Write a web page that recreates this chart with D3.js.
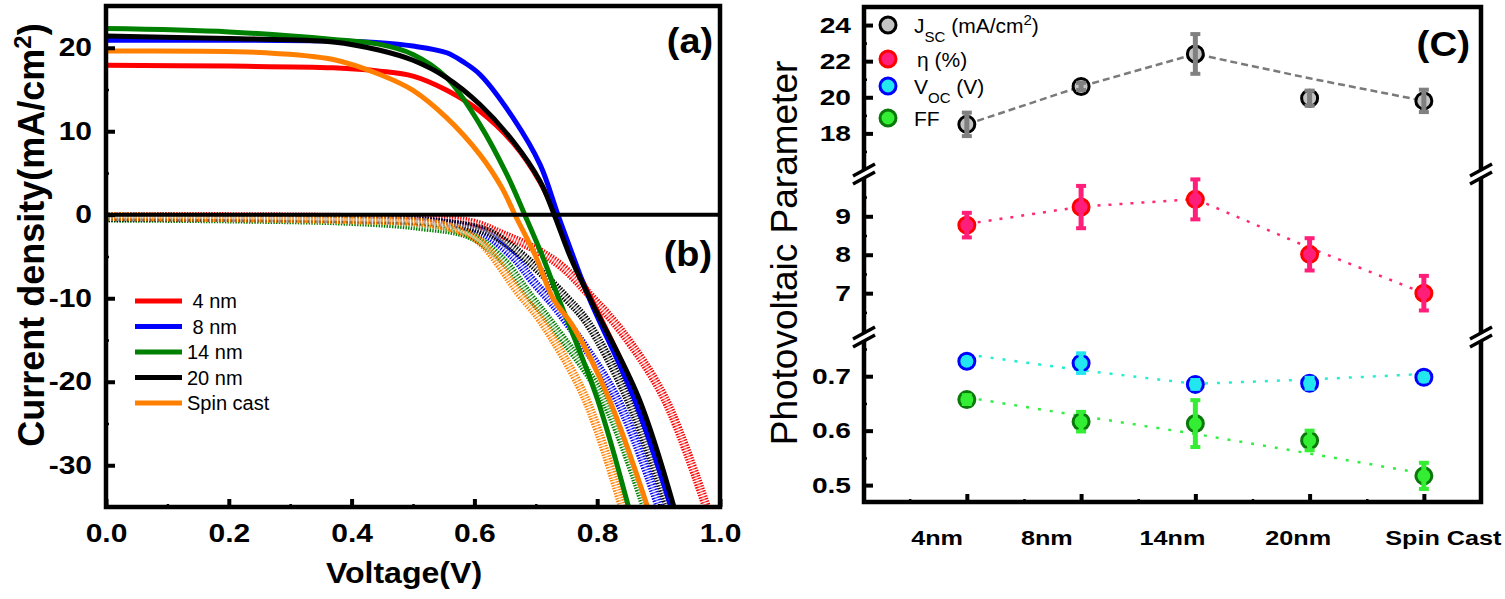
<!DOCTYPE html>
<html>
<head>
<meta charset="utf-8">
<script src="https://cdn.jsdelivr.net/npm/d3@7"></script>
<style>
  body { margin: 0; background: #fff; }
  svg { display: block; font-family: "Liberation Sans", Arial, sans-serif; }
</style>
</head>
<body>
<svg id="chart" width="1505" height="599"></svg>
<script>
// ---- panel (a): illuminated J-V, [voltage (V), current density (mA/cm2)] ----
const light4nm = [[0, 17.9], [0.2, 17.8], [0.37, 17.6], [0.446, 17.2], [0.5, 16.6], [0.555, 14.9], [0.609, 12.4],
  [0.663, 8.6], [0.707, 3.9], [0.732, 0], [0.757, -5], [0.79, -10], [0.866, -22], [0.922, -35]];
const light8nm = [[0, 20.9], [0.2, 20.9], [0.37, 20.8], [0.446, 20.6], [0.5, 20.2], [0.555, 19.4], [0.582, 18.3],
  [0.609, 16.8], [0.663, 11.6], [0.707, 6.0], [0.736, 0], [0.761, -5], [0.787, -10], [0.86, -22], [0.92, -35]];
const light14nm = [[0, 22.3], [0.2, 21.9], [0.37, 21.0], [0.446, 20.4], [0.5, 19.2], [0.555, 16.4], [0.609, 10.8],
  [0.653, 4.8], [0.682, 0], [0.711, -5], [0.737, -10], [0.8, -22], [0.851, -35]];
const light20nm = [[0, 21.4], [0.2, 21.1], [0.37, 20.7], [0.446, 19.7], [0.5, 18.5], [0.555, 16.4], [0.609, 13.2],
  [0.663, 8.8], [0.707, 4.0], [0.73, 0], [0.756, -5], [0.788, -10], [0.868, -22], [0.925, -35]];
const lightSpin = [[0, 19.6], [0.26, 19.4], [0.37, 18.6], [0.446, 16.8], [0.5, 14.9], [0.555, 11.6], [0.609, 7.2],
  [0.645, 3.2], [0.666, 0], [0.7, -5], [0.728, -10], [0.761, -13.4], [0.819, -22], [0.882, -35]];

// ---- panel (b): dark J-V (open symbols) ----
const dark4nm = [[0, -0.2], [0.45, -0.4], [0.593, -0.9], [0.647, -2.4], [0.701, -4.2], [0.744, -6.3],
  [0.79, -9.8], [0.84, -14], [0.91, -22], [0.978, -35]];
const dark8nm = [[0, -0.3], [0.4, -0.5], [0.55, -1.0], [0.61, -2.0], [0.663, -5.0], [0.696, -8.0],
  [0.739, -11.7], [0.832, -22], [0.901, -35]];
const dark14nm = [[0, -0.4], [0.2, -0.5], [0.4, -0.8], [0.511, -1.4], [0.593, -2.5], [0.647, -5.5],
  [0.69, -9.7], [0.728, -13.3], [0.81, -22], [0.878, -35]];
const dark20nm = [[0, -0.3], [0.4, -0.5], [0.55, -1.0], [0.62, -2.0], [0.663, -4.0], [0.707, -6.8],
  [0.75, -10], [0.783, -12.8], [0.85, -22], [0.916, -35]];
const darkSpin = [[0, -0.2], [0.2, -0.35], [0.4, -0.6], [0.511, -0.9], [0.565, -1.6], [0.609, -3.2],
  [0.674, -9.5], [0.707, -12.5], [0.781, -22], [0.841, -35]];

const seriesNames = [' 4 nm', ' 8 nm', '14 nm', '20 nm', 'Spin cast'];
const seriesColors = ['#ff0000', '#0000ff', '#008000', '#000000', '#ff8000'];
const lightCurves = [light4nm, light8nm, light14nm, light20nm, lightSpin];
const darkCurves = [dark4nm, dark8nm, dark14nm, dark20nm, darkSpin];

const voltTicks = [0, 0.2, 0.4, 0.6, 0.8, 1.0];
const voltMinor = [0.1, 0.3, 0.5, 0.7, 0.9];
const currTicks = [-30, -20, -10, 0, 10, 20];
const currMinor = [-25, -15, -5, 5, 15];

// ---- panel (C): photovoltaic parameters ----
const categories = ['4nm', '8nm', '14nm', '20nm', 'Spin Cast'];
const jscValues = [18.5, 20.6, 22.4, 19.95, 19.8];
const jscErr = [0.65, 0.2, 1.1, 0.42, 0.62];
const jscTrend = [18.5, 20.6, 22.4, 21.05, 19.8];
const etaValues = [8.77, 9.24, 9.44, 8.01, 7.0];
const etaErr = [0.32, 0.55, 0.52, 0.42, 0.45];
const etaTrend = [8.8, 9.25, 9.45, 8.18, 7.0];
const vocValues = [0.7275, 0.724, 0.685, 0.687, 0.698];
const vocErr = [0.005, 0.018, 0.008, 0.01, 0.006];
const vocTrend = [0.740, 0.711, 0.686, 0.694, 0.704];
const ffValues = [0.657, 0.6165, 0.613, 0.582, 0.517];
const ffErr = [0.008, 0.018, 0.043, 0.018, 0.024];
const ffTrend = [0.661, 0.627, 0.594, 0.558, 0.521];

const jscTicks = [18, 20, 22, 24];
const jscMinor = [17, 19, 21, 23];
const etaTicks = [7, 8, 9];
const etaMinor = [6.5, 7.5, 8.5, 9.5];
const lowTicks = [0.5, 0.6, 0.7];
const lowMinor = [0.55, 0.65, 0.75];

const svg = d3.select('#chart');
const BOLD_SX = 1.2; // the original figure's tick fonts are horizontally stretched

// stretched text anchored at (x, y)
function addText(g, x, y, str, size, weight, anchor, sx) {
  return g.append('text')
    .attr('transform', `translate(${x},${y}) scale(${sx || 1},1)`)
    .attr('font-size', size)
    .attr('font-weight', weight)
    .attr('text-anchor', anchor)
    .text(str);
}

function styleAxis(g, width, sx, pad, side) {
  g.select('.domain').remove();
  g.selectAll('.tick line').attr('stroke', '#000').attr('stroke-width', width);
  const t = g.selectAll('.tick text')
    .attr('fill', '#000')
    .attr('font-weight', 'bold')
    .attr('transform', `scale(${sx},1)`);
  if (side === 'left') t.attr('x', -pad / sx);
}

// ================= left panel =================
const A = { left: 106, right: 720, top: 6, bottom: 507 };
const xV = d3.scaleLinear().domain([0, 1]).range([A.left, A.right]);
const yJ = d3.scaleLinear().domain([-35, 25]).range([A.bottom, A.top]);
const lineJV = d3.line().x((d) => xV(d[0])).y((d) => yJ(d[1])).curve(d3.curveCatmullRom.alpha(0.5));

svg.append('clipPath').attr('id', 'clipA')
  .append('rect').attr('x', A.left).attr('y', A.top).attr('width', A.right - A.left).attr('height', A.bottom - A.top);

const plotA = svg.append('g').attr('clip-path', 'url(#clipA)');

// dark curves: dense open circles, imitated by a hatched band
darkCurves.forEach((pts, i) => {
  plotA.append('path').attr('d', lineJV(pts)).attr('fill', 'none')
    .attr('stroke', seriesColors[i]).attr('stroke-width', 9).attr('stroke-dasharray', '1.4 1.3');
  plotA.append('path').attr('d', lineJV(pts)).attr('fill', 'none')
    .attr('stroke', '#fff').attr('stroke-opacity', 0.35).attr('stroke-width', 3);
});

lightCurves.forEach((pts, i) => {
  plotA.append('path').attr('d', lineJV(pts)).attr('fill', 'none')
    .attr('stroke', seriesColors[i]).attr('stroke-width', 5);
});

// zero line separating (a) and (b)
svg.append('line')
  .attr('x1', xV(0)).attr('x2', xV(1)).attr('y1', yJ(0)).attr('y2', yJ(0))
  .attr('stroke', '#000').attr('stroke-width', 4);

// axes
const axB = svg.append('g').attr('transform', `translate(0,${A.bottom})`)
  .call(d3.axisBottom(xV).tickValues(voltTicks).tickFormat(d3.format('.1f'))
    .tickSizeInner(-8).tickSizeOuter(0).tickPadding(17))
  .attr('font-size', 25).attr('font-family', null);
styleAxis(axB, 4, BOLD_SX, 17, 'bottom');
const axBm = svg.append('g').attr('transform', `translate(0,${A.bottom})`)
  .call(d3.axisBottom(xV).tickValues(voltMinor).tickFormat('').tickSizeInner(-3).tickSizeOuter(0));
styleAxis(axBm, 2.5, 1, 0, 'bottom');

const axL = svg.append('g').attr('transform', `translate(${A.left},0)`)
  .call(d3.axisLeft(yJ).tickValues(currTicks).tickFormat(d3.format('d'))
    .tickSizeInner(-9).tickSizeOuter(0).tickPadding(14))
  .attr('font-size', 25).attr('font-family', null);
styleAxis(axL, 4, BOLD_SX, 14, 'left');
axL.selectAll('.tick text').text((d) => String(d).replace('\u2212', '-'));
const axLm = svg.append('g').attr('transform', `translate(${A.left},0)`)
  .call(d3.axisLeft(yJ).tickValues(currMinor).tickFormat('').tickSizeInner(-3).tickSizeOuter(0));
styleAxis(axLm, 2.5, 1, 0, 'left');

svg.append('rect')
  .attr('x', A.left).attr('y', A.top).attr('width', A.right - A.left).attr('height', A.bottom - A.top)
  .attr('fill', 'none').attr('stroke', '#000').attr('stroke-width', 4.5);

// legend
const legA = svg.append('g');
seriesNames.forEach((name, i) => {
  const y = 301 + i * 25.5;
  legA.append('line').attr('x1', 135).attr('x2', 182).attr('y1', y).attr('y2', y)
    .attr('stroke', seriesColors[i]).attr('stroke-width', 5);
  legA.append('text').attr('x', 187).attr('y', y + 7).attr('font-size', 20)
    .style('white-space', 'pre').text(name);
});

addText(svg, 713, 53, '(a)', 35, 'bold', 'end', 1.08);
addText(svg, 712, 266, '(b)', 35, 'bold', 'end', 1.08);

const titleA = svg.append('text')
  .attr('transform', 'translate(44,235) rotate(-90)')
  .attr('font-size', 36).attr('font-weight', 'bold').attr('text-anchor', 'middle');
titleA.append('tspan').text('Current density(mA/cm');
titleA.append('tspan').attr('baseline-shift', 'super').attr('font-size', 24).text('2');
titleA.append('tspan').text(')');

addText(svg, 404, 583, 'Voltage(V)', 30, 'bold', 'middle', 1.07);

// ================= right panel =================
const C = { left: 864, right: 1481, top: 7, bottom: 502, brk1: 174, brk2: 337 };
const xC = d3.scaleLinear().domain([0.1, 5.5]).range([C.left, C.right]);
const yJsc = d3.scaleLinear().domain([15.75, 25]).range([C.brk1, C.top]);
const yEta = d3.scaleLinear().domain([5.86, 10.1]).range([C.brk2, C.brk1]);
const yLow = d3.scaleLinear().domain([0.469, 0.772]).range([C.bottom, C.brk2]);
const catX = (i) => xC(i + 1);
const CAT_LABEL_X = [0.74, 1.70, 2.80, 3.90, 5.17];

// frame
svg.append('path')
  .attr('d', `M${C.left},${C.top}H${C.right}V${C.bottom}H${C.left}Z`)
  .attr('fill', 'none').attr('stroke', '#000').attr('stroke-width', 4.5);

// y axes for the three segments
[[yJsc, jscTicks, jscMinor, d3.format('d')],
 [yEta, etaTicks, etaMinor, d3.format('d')],
 [yLow, lowTicks, lowMinor, d3.format('.1f')]].forEach(([sc, major, minor, fmt]) => {
  const g = svg.append('g').attr('transform', `translate(${C.left},0)`)
    .call(d3.axisLeft(sc).tickValues(major).tickFormat(fmt).tickSizeInner(-9).tickSizeOuter(0).tickPadding(13))
    .attr('font-size', 22).attr('font-family', null);
  styleAxis(g, 4, 1.28, 13, 'left');
  const gm = svg.append('g').attr('transform', `translate(${C.left},0)`)
    .call(d3.axisLeft(sc).tickValues(minor).tickFormat('').tickSizeInner(-3).tickSizeOuter(0));
  styleAxis(gm, 2.5, 1, 0, 'left');
});

// x axis ticks
const axC = svg.append('g').attr('transform', `translate(0,${C.bottom})`)
  .call(d3.axisBottom(xC).tickValues(d3.range(1, 6)).tickFormat('').tickSizeInner(-8).tickSizeOuter(0));
styleAxis(axC, 4, 1, 0, 'bottom');
const axCm = svg.append('g').attr('transform', `translate(0,${C.bottom})`)
  .call(d3.axisBottom(xC).tickValues([0.5, 1.5, 2.5, 3.5, 4.5]).tickFormat('').tickSizeInner(-3).tickSizeOuter(0));
styleAxis(axCm, 2.5, 1, 0, 'bottom');
categories.forEach((c, i) => {
  addText(svg, xC(CAT_LABEL_X[i]), 545, c, 21, 'bold', 'middle', 1.2);
});

// axis breaks
function axisBreak(x, y) {
  const g = svg.append('g');
  g.append('polygon')
    .attr('points', `${x - 9},${y + 9} ${x + 9},${y - 1} ${x + 9},${y - 9} ${x - 9},${y + 1}`)
    .attr('fill', '#fff');
  [-4, 4].forEach((o) => {
    g.append('line')
      .attr('x1', x - 11).attr('y1', y + 6 + o).attr('x2', x + 11).attr('y2', y - 6 + o)
      .attr('stroke', '#000').attr('stroke-width', 3.5);
  });
}
[C.brk1, C.brk2].forEach((y) => { axisBreak(C.left, y); axisBreak(C.right, y); });

// series
const groups = [
  { vals: jscValues, err: jscErr, trend: jscTrend, sc: yJsc, fill: '#c4c4c4', ring: '#000000',
    bar: '#808080', line: '#7a7a7a', dash: '7 4' },
  { vals: etaValues, err: etaErr, trend: etaTrend, sc: yEta, fill: '#ff1f7a', ring: '#ff0000',
    bar: '#ff1f7a', line: '#ff2a72', dash: '3 8' },
  { vals: vocValues, err: vocErr, trend: vocTrend, sc: yLow, fill: '#22e6f0', ring: '#0000ff',
    bar: '#22e6f0', line: '#22eed0', dash: '3 9' },
  { vals: ffValues, err: ffErr, trend: ffTrend, sc: yLow, fill: '#33ee33', ring: '#0a780a',
    bar: '#33ee33', line: '#33ee44', dash: '3 9' },
];

groups.forEach((s) => {
  const ln = d3.line().x((d, i) => catX(i)).y((d) => s.sc(d));
  svg.append('path').attr('d', ln(s.trend)).attr('fill', 'none')
    .attr('stroke', s.line).attr('stroke-width', 2.5).attr('stroke-dasharray', s.dash);
});

groups.forEach((s) => {
  const g = svg.append('g');
  g.selectAll('circle').data(s.vals).join('circle')
    .attr('cx', (d, i) => catX(i)).attr('cy', (d) => s.sc(d)).attr('r', 8)
    .attr('fill', s.fill).attr('stroke', s.ring).attr('stroke-width', 3);
  const eb = g.selectAll('g.err').data(s.vals).join('g').attr('class', 'err');
  eb.append('line')
    .attr('x1', (d, i) => catX(i)).attr('x2', (d, i) => catX(i))
    .attr('y1', (d, i) => s.sc(d + s.err[i])).attr('y2', (d, i) => s.sc(d - s.err[i]))
    .attr('stroke', s.bar).attr('stroke-width', 5);
  [1, -1].forEach((sign) => {
    eb.append('line')
      .attr('x1', (d, i) => catX(i) - 5).attr('x2', (d, i) => catX(i) + 5)
      .attr('y1', (d, i) => s.sc(d + sign * s.err[i])).attr('y2', (d, i) => s.sc(d + sign * s.err[i]))
      .attr('stroke', s.bar).attr('stroke-width', 4);
  });
});

// legend
const legC = svg.append('g');
const legY = [25, 59, 86, 118];
groups.forEach((s, i) => {
  legC.append('circle').attr('cx', 888).attr('cy', legY[i]).attr('r', 8)
    .attr('fill', s.fill).attr('stroke', s.ring).attr('stroke-width', 3);
});
const t1 = legC.append('text').attr('x', 914).attr('y', legY[0] + 8).attr('font-size', 21);
t1.append('tspan').text('J');
t1.append('tspan').attr('baseline-shift', 'sub').attr('font-size', 15).text('SC');
t1.append('tspan').text(' (mA/cm');
t1.append('tspan').attr('baseline-shift', 'super').attr('font-size', 15).text('2');
t1.append('tspan').text(')');
legC.append('text').attr('x', 917).attr('y', legY[1] + 8).attr('font-size', 21).text('\u03b7 (%)');
const t3 = legC.append('text').attr('x', 914).attr('y', legY[2] + 8).attr('font-size', 21);
t3.append('tspan').text('V');
t3.append('tspan').attr('baseline-shift', 'sub').attr('font-size', 15).text('OC');
t3.append('tspan').text(' (V)');
legC.append('text').attr('x', 914).attr('y', legY[3] + 8).attr('font-size', 21).text('FF');

addText(svg, 1470, 56, '(C)', 35, 'bold', 'end', 1.1);

svg.append('text')
  .attr('transform', 'translate(797,253) rotate(-90)')
  .attr('font-size', 37).attr('text-anchor', 'middle')
  .text('Photovoltaic Parameter');
</script>
</body>
</html>
